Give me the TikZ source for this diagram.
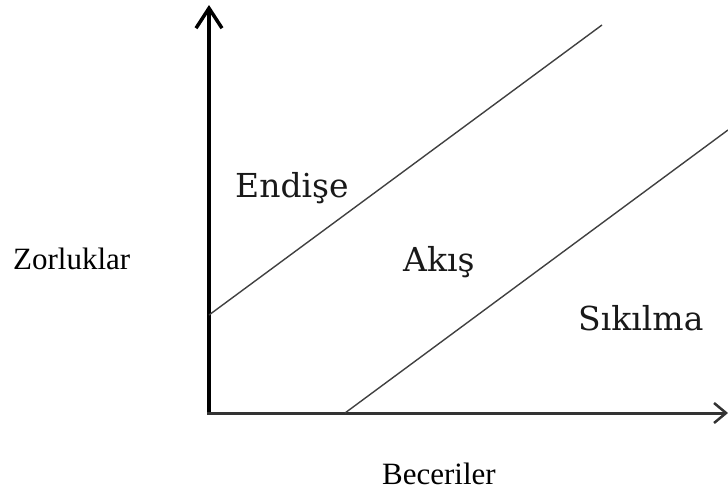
\documentclass[tikz,border=0pt]{standalone}
\usepackage{fontspec}
\setmainfont{Liberation Serif}
\newfontfamily\lblfont{DejaVu Serif}
\usetikzlibrary{arrows.meta}
\begin{document}
\begin{tikzpicture}[x=1pt,y=-1pt,
  diag/.style={line width=1.4pt,draw=black!75},
  axislabel/.style={anchor=base west,inner sep=0pt,font=\fontsize{31}{36}\selectfont},
  zonelabel/.style={anchor=base west,inner sep=0pt,font=\lblfont\fontsize{33}{38}\selectfont,text=black!90}]
\useasboundingbox (0,0) rectangle (728,490);
\coordinate (O) at (209,413);
\coordinate (ytip) at (209,5);
\coordinate (xtip) at (728,413);
\coordinate (xstart) at (207,413);
\coordinate (a1) at (209,315);
\coordinate (a2) at (602,25);
\coordinate (b1) at (345,413);
\coordinate (b2) at (728,130);
\draw[line width=4pt,-{Straight Barb[length=20pt,width=26pt,line width=3.5pt]}] (O) -- (ytip);
\draw[line width=3pt,draw=black!80,-{Straight Barb[length=12pt,width=20pt,line width=2.5pt]}] (xstart) -- (xtip);
\draw[diag] (a1) -- (a2);
\draw[diag] (b1) -- (b2);
\node[zonelabel] (endise) at (235,197) {Endişe};
\node[zonelabel] (akis) at (403,271) {Akış};
\node[zonelabel] (sikilma) at (578,330) {Sıkılma};
\node[axislabel] (zor) at (13,269) {Zorluklar};
\node[axislabel] (bec) at (382,484) {Beceriler};
\end{tikzpicture}
\end{document}
